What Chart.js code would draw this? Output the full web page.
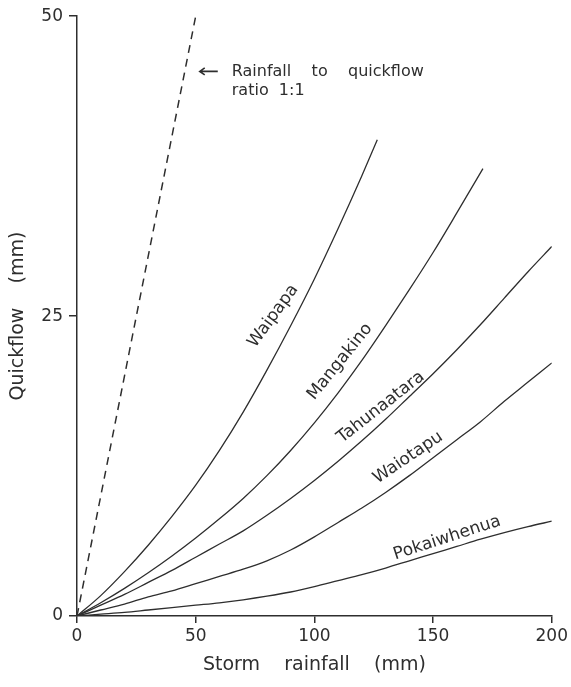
<!DOCTYPE html>
<html>
<head>
<meta charset="utf-8">
<script src="https://cdn.jsdelivr.net/npm/chart.js@4.4.1/dist/chart.umd.min.js"></script>
<style>
  html, body { margin: 0; padding: 0; background: #fff; }
  #wrap { width: 571px; height: 687px; }
</style>
</head>
<body>
<div id="wrap"><canvas id="graphQuickflow"></canvas></div>
<script>
// storm rainfall (mm) -> quickflow (mm)
const waipapaX = [0, 10, 20, 30, 40, 50, 60, 70, 80, 90, 100, 110, 120, 126.5];
const waipapaY = [0, 1.7, 3.7, 5.9, 8.3, 10.9, 13.8, 17.0, 20.5, 24.2, 28.1, 32.3, 36.7, 39.7];

const mangakinoX = [0, 10, 20, 30, 40, 50, 60, 70, 80, 90, 100, 110, 120, 130, 140, 150, 160, 171];
const mangakinoY = [0, 1.1, 2.3, 3.6, 5.0, 6.5, 8.1, 9.8, 11.7, 13.8, 16.1, 18.6, 21.3, 24.2, 27.2, 30.3, 33.6, 37.3];

const tahunaataraX = [0, 10, 20, 30, 40, 50, 60, 70, 80, 90, 100, 110, 120, 130, 140, 150, 160, 170, 180, 190, 200];
const tahunaataraY = [0, 0.9, 1.8, 2.8, 3.8, 4.9, 6.0, 7.1, 8.4, 9.8, 11.3, 12.9, 14.6, 16.4, 18.3, 20.2, 22.2, 24.3, 26.5, 28.7, 30.8];

const waiotapuX = [0, 10, 20, 30, 40, 50, 60, 70, 80, 90, 100, 110, 120, 130, 140, 150, 160, 170, 180, 190, 200];
const waiotapuY = [0, 0.5, 1.0, 1.6, 2.1, 2.7, 3.3, 3.9, 4.6, 5.5, 6.6, 7.8, 9.0, 10.3, 11.7, 13.2, 14.7, 16.2, 17.9, 19.5, 21.1];

const pokaiwhenuaX = [0, 10, 20, 30, 40, 50, 60, 70, 80, 90, 100, 110, 120, 130, 140, 150, 160, 170, 180, 190, 200];
const pokaiwhenuaY = [0, 0.15, 0.3, 0.5, 0.7, 0.9, 1.1, 1.35, 1.65, 2.0, 2.45, 2.95, 3.45, 4.0, 4.6, 5.2, 5.8, 6.4, 6.95, 7.45, 7.9];

// 1:1 line
const ratioX = [0, 50];
const ratioY = [0, 50];

// axis ticks
const xTicks = [0, 50, 100, 150, 200];
const yTicks = [0, 25, 50];

// labels along the curves (data coordinates + angle in degrees)
const curveLabels = [
  { text: 'Waipapa', x: 82.7, y: 25.0, angle: 54 },
  { text: 'Mangakino', x: 110.8, y: 21.2, angle: 51 },
  { text: 'Tahunaatara', x: 128, y: 17.4, angle: 38 },
  { text: 'Waiotapu', x: 139.5, y: 13.2, angle: 34 },
  { text: 'Pokaiwhenua', x: 155.9, y: 6.5, angle: 18 }
];

const inkColor = '#2e2e2e';
const fontName = '"DejaVu Sans", sans-serif';

function toPoints(xs, ys) {
  return xs.map((v, i) => ({ x: v, y: ys[i] }));
}

function curve(label, xs, ys) {
  return {
    label: label,
    data: toPoints(xs, ys),
    borderColor: inkColor,
    borderWidth: 1.3,
    pointRadius: 0,
    fill: false,
    cubicInterpolationMode: 'monotone'
  };
}

// texts drawn on top of the curves
const textPlugin = {
  id: 'textPlugin',
  afterDatasetsDraw(chart) {
    const ctx = chart.ctx;
    const sx = chart.scales.x;
    const sy = chart.scales.y;
    ctx.save();
    ctx.fillStyle = inkColor;
    ctx.strokeStyle = inkColor;
    ctx.font = '17px ' + fontName;
    ctx.textAlign = 'center';
    ctx.textBaseline = 'middle';
    curveLabels.forEach(l => {
      ctx.save();
      ctx.translate(sx.getPixelForValue(l.x), sy.getPixelForValue(l.y));
      ctx.rotate(-l.angle * Math.PI / 180);
      ctx.fillText(l.text, 0, 0);
      ctx.restore();
    });

    // arrow pointing to the dashed line
    const ay = sy.getPixelForValue(45.4);
    const a0 = sx.getPixelForValue(51.7);
    const a1 = sx.getPixelForValue(59.3);
    ctx.lineWidth = 1.6;
    ctx.beginPath();
    ctx.moveTo(a1, ay);
    ctx.lineTo(a0, ay);
    ctx.moveTo(a0 + 5, ay - 3.5);
    ctx.lineTo(a0, ay);
    ctx.lineTo(a0 + 5, ay + 3.5);
    ctx.stroke();

    ctx.font = '16px ' + fontName;
    ctx.textAlign = 'left';
    const tx = sx.getPixelForValue(65.2);
    ctx.fillText('Rainfall    to    quickflow', tx, ay);
    ctx.fillText('ratio  1:1', tx, sy.getPixelForValue(43.8));
    ctx.restore();
  }
};

const ctx = document.getElementById('graphQuickflow').getContext('2d');

new Chart(ctx, {
  type: 'line',
  data: {
    datasets: [
      {
        label: 'Rainfall to quickflow ratio 1:1',
        data: toPoints(ratioX, ratioY),
        borderColor: inkColor,
        borderWidth: 1.5,
        borderDash: [8, 6],
        pointRadius: 0,
        fill: false
      },
      curve('Waipapa', waipapaX, waipapaY),
      curve('Mangakino', mangakinoX, mangakinoY),
      curve('Tahunaatara', tahunaataraX, tahunaataraY),
      curve('Waiotapu', waiotapuX, waiotapuY),
      curve('Pokaiwhenua', pokaiwhenuaX, pokaiwhenuaY)
    ]
  },
  options: {
    responsive: true,
    maintainAspectRatio: false,
    animation: false,
    layout: { padding: { top: 13, right: 19, left: 0, bottom: 0 } },
    plugins: {
      legend: { display: false },
      tooltip: { enabled: false }
    },
    scales: {
      x: {
        type: 'linear',
        min: 0,
        max: 200,
        afterFit: s => { s.height = 71; },
        afterBuildTicks: s => { s.ticks = xTicks.map(v => ({ value: v })); },
        grid: { drawOnChartArea: false, drawTicks: true, tickLength: 7, color: inkColor, lineWidth: 1.5 },
        border: { display: true, color: inkColor, width: 1.5 },
        ticks: { color: inkColor, padding: 3, font: { family: fontName, size: 17 }, maxRotation: 0 },
        title: {
          display: true,
          text: 'Storm    rainfall    (mm)',
          color: inkColor,
          font: { family: fontName, size: 19 },
          padding: { top: 4, bottom: 11 }
        }
      },
      y: {
        type: 'linear',
        min: 0,
        max: 50,
        afterFit: s => { s.width = 77; },
        afterBuildTicks: s => { s.ticks = yTicks.map(v => ({ value: v })); },
        grid: { drawOnChartArea: false, drawTicks: true, tickLength: 8, color: inkColor, lineWidth: 1.5 },
        border: { display: true, color: inkColor, width: 1.5 },
        ticks: { color: inkColor, padding: 6, font: { family: fontName, size: 17 } },
        title: {
          display: true,
          text: 'Quickflow    (mm)',
          color: inkColor,
          font: { family: fontName, size: 19 },
          padding: { top: 7, bottom: 4 }
        }
      }
    }
  },
  plugins: [textPlugin]
});
</script>
</body>
</html>
